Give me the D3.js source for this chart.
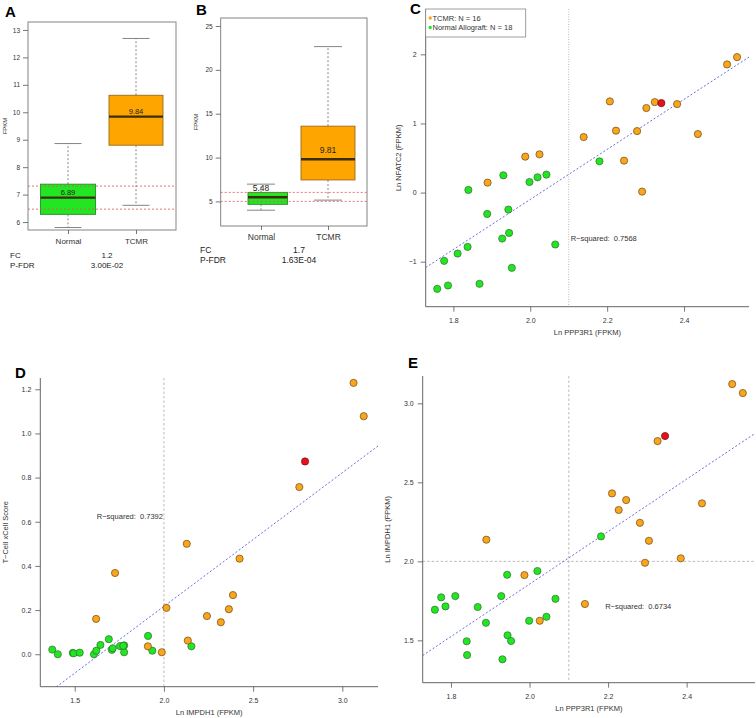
<!DOCTYPE html>
<html><head><meta charset="utf-8">
<script src="https://cdn.jsdelivr.net/npm/d3@7"></script>
<style>body{margin:0;background:#fff}</style>
</head><body><svg id="c" width="756" height="718"></svg>
<script>
// ---------------- DATA ----------------
const boxCategories = ["Normal", "TCMR"];
// Panel A (FPKM)
const boxA_low  = [5.80, 6.61];
const boxA_q1   = [6.28, 8.80];
const boxA_med  = [6.89, 9.84];
const boxA_q3   = [7.38, 10.62];
const boxA_high = [8.86, 12.69];
const boxA_ref  = [6.47, 7.31];
const boxA_ticks = [6, 7, 8, 9, 10, 11, 12, 13];
const boxA_fc = "1.2", boxA_pfdr = "3.00E-02";
// Panel B (FPKM)
const boxB_low  = [4.0, 5.15];
const boxB_q1   = [4.67, 7.45];
const boxB_med  = [5.48, 9.81];
const boxB_q3   = [6.03, 13.58];
const boxB_high = [6.97, 22.65];
const boxB_ref  = [5.0, 6.03];
const boxB_ticks = [5, 10, 15, 20, 25];
const boxB_fc = "1.7", boxB_pfdr = "1.63E-04";

// Panel C: Ln PPP3R1 vs Ln NFATC2
const cTcmrX = [2.538, 2.512, 2.207, 2.324, 2.382, 2.302, 2.223, 2.278, 2.436, 2.139, 1.987, 2.024, 2.244, 1.889, 2.291];
const cTcmrY = [1.96, 1.854, 1.319, 1.309, 1.28, 1.223, 0.896, 0.89, 0.847, 0.803, 0.52, 0.553, 0.462, 0.144, 0.014];
const cRedX = [2.341], cRedY = [1.295];
const cNormX = [2.180, 1.93, 1.839, 1.998, 2.019, 2.042, 1.888, 1.943, 1.927, 1.945, 2.065, 1.837, 1.811, 1.776, 1.952, 1.868, 1.786, 1.758];
const cNormY = [0.452, 0.25, 0.038, 0.153, 0.221, 0.26, -0.309, -0.246, -0.665, -0.584, -0.751, -0.786, -0.882, -0.988, -1.089, -1.32, -1.344, -1.393];
const cXTicks = [1.8, 2.0, 2.2, 2.4], cYTicks = [-1, 0, 1, 2];
const cFit = [3.62, -7.339];   // slope, intercept
const cR2 = "0.7568";

// Panel D: Ln IMPDH1 vs T-Cell xCell score
const dTcmrX = [3.063, 3.12, 2.759, 2.128, 2.424, 1.726, 2.387, 2.014, 2.364, 2.241, 1.62, 2.319, 2.134, 1.91, 1.988];
const dTcmrY = [1.229, 1.078, 0.757, 0.5, 0.433, 0.368, 0.268, 0.21, 0.204, 0.173, 0.16, 0.145, 0.062, 0.036, 0.009];
const dRedX = [2.791], dRedY = [0.873];
const dNormX = [1.374, 1.405, 1.489, 1.494, 1.528, 1.608, 1.621, 1.644, 1.691, 1.708, 1.713, 1.754, 1.777, 1.777, 1.772, 1.911, 1.935, 2.154];
const dNormY = [0.021, 0.0, 0.006, 0.004, 0.007, 0.0, 0.016, 0.042, 0.068, 0.02, 0.027, 0.037, 0.04, 0.009, 0.038, 0.083, 0.016, 0.036];
const dXTicks = [1.5, 2.0, 2.5, 3.0], dYTicks = [0.0, 0.2, 0.4, 0.6, 0.8, 1.0, 1.2];
const dFit = [0.605, -0.993];
const dR2 = "0.7392";

// Panel E: Ln PPP3R1 vs Ln IMPDH1
const eTcmrX = [2.516, 2.543, 2.326, 2.21, 2.246, 2.439, 2.227, 2.281, 1.89, 2.304, 2.385, 2.294, 1.987, 2.141, 2.026];
const eTcmrY = [3.122, 3.065, 2.761, 2.43, 2.388, 2.367, 2.325, 2.244, 2.137, 2.13, 2.019, 1.991, 1.913, 1.73, 1.624];
const eRedX = [2.345], eRedY = [2.793];
const eNormX = [2.182, 1.943, 2.02, 1.811, 1.775, 1.928, 2.066, 1.786, 1.868, 1.759, 2.043, 1.999, 1.889, 1.944, 1.84, 1.953, 1.841, 1.931];
const eNormY = [2.158, 1.915, 1.939, 1.78, 1.772, 1.78, 1.763, 1.715, 1.711, 1.694, 1.649, 1.624, 1.611, 1.532, 1.494, 1.496, 1.407, 1.38];
const eXTicks = [1.8, 2.0, 2.2, 2.4], eYTicks = [1.5, 2.0, 2.5, 3.0];
const eFit = [1.661, -1.466];
const eR2 = "0.6734";

const legendLabels = ["TCMR: N = 16", "Normal Allograft: N = 18"];

// ---------------- STYLE ----------------
const FONT = '"Liberation Sans", Arial, Helvetica, sans-serif';
const GREEN = "#22E622", GREEN_STROKE = "#2f6f2f";
const ORANGE = "#F9A51E", ORANGE_STROKE = "#6d4a10";
const RED = "#E8101A", RED_STROKE = "#6a1010";
const AXIS = "#555";

const svg = d3.select("#c");

function styleAxis(g, fs) {
  g.select(".domain").remove();
  g.attr("font-family", FONT).attr("font-size", fs);
  g.selectAll(".tick line").attr("stroke", AXIS).attr("stroke-width", 0.8);
  g.selectAll(".tick text").attr("fill", "#333");
}

function letter(txt, x, y) {
  svg.append("text").attr("x", x).attr("y", y).text(txt)
    .attr("font-family", FONT).attr("font-weight", "bold").attr("font-size", 15).attr("fill", "#000");
}

// ---------------- BOX PLOTS ----------------
function boxplot(o) {
  const g = svg.append("g");
  const y = d3.scaleLinear().domain(o.yDomain).range([o.bottom, o.top]);
  const x = d3.scalePoint().domain(boxCategories).range(o.centers);
  const rows = boxCategories.map((c, i) => ({c, i, low: o.low[i], q1: o.q1[i], med: o.med[i], q3: o.q3[i], high: o.high[i]}));
  g.append("rect").attr("x", o.left).attr("y", o.top).attr("width", o.right - o.left).attr("height", o.bottom - o.top)
    .attr("fill", "none").attr("stroke", "#777").attr("stroke-width", 0.9);
  rows.forEach(r => {
    const cx = x(r.c);
    const [l, rr] = o.boxExt[r.i];
    const fill = r.i === 0 ? GREEN : "#FFA500";
    const stroke = r.i === 0 ? "#2b8a2b" : "#9a6a18";
    g.append("line").attr("x1", cx).attr("x2", cx).attr("y1", y(r.q3)).attr("y2", y(r.high))
      .attr("stroke", "#666").attr("stroke-dasharray", "2,2").attr("stroke-width", 0.8);
    g.append("line").attr("x1", cx).attr("x2", cx).attr("y1", y(r.q1)).attr("y2", y(r.low))
      .attr("stroke", "#666").attr("stroke-dasharray", "2,2").attr("stroke-width", 0.8);
    [r.low, r.high].forEach(v => g.append("line").attr("x1", cx - o.cap).attr("x2", cx + o.cap)
      .attr("y1", y(v)).attr("y2", y(v)).attr("stroke", "#777").attr("stroke-width", 0.9));
    g.append("rect").attr("x", cx + l).attr("width", rr - l).attr("y", y(r.q3)).attr("height", y(r.q1) - y(r.q3))
      .attr("fill", fill).attr("stroke", stroke).attr("stroke-width", 0.9);
    g.append("line").attr("x1", cx + l).attr("x2", cx + rr).attr("y1", y(r.med)).attr("y2", y(r.med))
      .attr("stroke", "#3a2e10").attr("stroke-width", 2.4);
    g.append("text").attr("x", cx).attr("y", y(r.med) - o.labelGap).attr("text-anchor", "middle")
      .attr("font-family", FONT).attr("font-size", o.medFs).attr("fill", "#222").text(r.med.toFixed(2));
  });
  o.ref.forEach(v => g.append("line").attr("x1", o.left).attr("x2", o.right).attr("y1", y(v)).attr("y2", y(v))
    .attr("stroke", "#e05555").attr("stroke-dasharray", "2,2").attr("stroke-width", 0.8));
  const ya = g.append("g").attr("transform", `translate(${o.left},0)`)
    .call(d3.axisLeft(y).tickValues(o.ticks).tickSize(5).tickPadding(3).tickFormat(d3.format("d")));
  styleAxis(ya, o.tickFs);
  const xa = g.append("g").attr("transform", `translate(0,${o.bottom})`)
    .call(d3.axisBottom(x).tickSize(4).tickPadding(4));
  styleAxis(xa, o.catFs);
  g.append("text").attr("transform", `translate(${o.yTitleX},${(o.top + o.bottom) / 2}) rotate(-90)`)
    .attr("text-anchor", "middle").attr("dy", "0.35em").attr("font-family", FONT).attr("font-size", 6).attr("fill", "#333").text("FPKM");
  const t = (txt, xx, yy, anchor) => g.append("text").attr("x", xx).attr("y", yy).attr("text-anchor", anchor)
    .attr("dy", "0.35em").attr("font-family", FONT).attr("font-size", o.catFs).attr("fill", "#222").text(txt);
  t("FC", o.fcX, o.fcY, "start");
  t(o.fc, o.valX, o.fcY, "middle");
  t("P-FDR", o.fcX, o.fcY + 10, "start");
  t(o.pfdr, o.valX, o.fcY + 10, "middle");
}

boxplot({left: 28, right: 176, top: 22, bottom: 230, yDomain: [5.71, 13.29], centers: [68, 136],
  boxExt: [[-27.5, 27.5], [-27, 27]], cap: 13.5,
  low: boxA_low, q1: boxA_q1, med: boxA_med, q3: boxA_q3, high: boxA_high, ref: boxA_ref, ticks: boxA_ticks,
  labelGap: 3, medFs: 7.5, tickFs: 6.5, catFs: 8, yTitleX: 5, fcX: 10, fcY: 255, valX: 107, fc: boxA_fc, pfdr: boxA_pfdr});
boxplot({left: 220.7, right: 367, top: 18, bottom: 226, yDomain: [2.2, 25.91], centers: [261, 328],
  boxExt: [[-13, 26.5], [-27, 27]], cap: 14,
  low: boxB_low, q1: boxB_q1, med: boxB_med, q3: boxB_q3, high: boxB_high, ref: boxB_ref, ticks: boxB_ticks,
  labelGap: 6, medFs: 8.5, tickFs: 6.5, catFs: 8.5, yTitleX: 196, fcX: 200, fcY: 250, valX: 299, fc: boxB_fc, pfdr: boxB_pfdr});
letter("A", 5, 17);
letter("B", 196, 15);

// ---------------- SCATTER PLOTS ----------------
let clipN = 0;
function scatter(o) {
  const g = svg.append("g");
  const x = d3.scaleLinear().domain(o.xDomain).range([o.left, o.right]);
  const y = d3.scaleLinear().domain(o.yDomain).range([o.bottom, o.top]);
  const id = "clip" + (clipN++);
  svg.append("clipPath").attr("id", id).append("rect")
    .attr("x", o.left).attr("y", o.top).attr("width", o.right - o.left).attr("height", o.bottom - o.top);
  const inner = g.append("g").attr("clip-path", `url(#${id})`);
  (o.vref || []).forEach(v => inner.append("line").attr("x1", x(v)).attr("x2", x(v)).attr("y1", o.top).attr("y2", o.bottom)
    .attr("stroke", "#aaa").attr("stroke-width", 0.8).attr("stroke-dasharray", o.refDash));
  (o.href || []).forEach(v => inner.append("line").attr("x1", o.left).attr("x2", o.right).attr("y1", y(v)).attr("y2", y(v))
    .attr("stroke", "#aaa").attr("stroke-width", 0.8).attr("stroke-dasharray", o.refDash));
  const [m, b] = o.fit;
  inner.append("line").attr("x1", x(o.xDomain[0])).attr("y1", y(m * o.xDomain[0] + b))
    .attr("x2", x(o.xDomain[1])).attr("y2", y(m * o.xDomain[1] + b))
    .attr("stroke", "#5a5ae0").attr("stroke-width", 0.9).attr("stroke-dasharray", "2,2");
  const pts = (xs, ys, fill, stroke) => inner.append("g").selectAll("circle").data(xs.map((v, i) => [v, ys[i]])).join("circle")
    .attr("cx", d => x(d[0])).attr("cy", d => y(d[1])).attr("r", 3.6)
    .attr("fill", fill).attr("stroke", stroke).attr("stroke-width", 0.7);
  pts(o.nx, o.ny, GREEN, GREEN_STROKE);
  pts(o.tx, o.ty, ORANGE, ORANGE_STROKE);
  pts(o.rx, o.ry, RED, RED_STROKE);
  g.append("path").attr("d", `M${o.left},${o.top}V${o.bottom}H${o.right}`).attr("fill", "none").attr("stroke", AXIS).attr("stroke-width", 0.9);
  const ya = g.append("g").attr("transform", `translate(${o.left},0)`)
    .call(d3.axisLeft(y).tickValues(o.yTicks).tickSize(5).tickPadding(4).tickFormat(o.yFmt));
  styleAxis(ya, 7);
  const xa = g.append("g").attr("transform", `translate(0,${o.bottom})`)
    .call(d3.axisBottom(x).tickValues(o.xTicks).tickSize(5).tickPadding(6).tickFormat(d3.format(".1f")));
  styleAxis(xa, 7);
  g.append("text").attr("x", (o.left + o.right) / 2).attr("y", o.bottom + 26).attr("text-anchor", "middle").attr("dy", "0.35em")
    .attr("font-family", FONT).attr("font-size", 7.5).attr("fill", "#333").text(o.xTitle);
  g.append("text").attr("transform", `translate(${o.left - o.yTitleOff},${(o.top + o.bottom) / 2}) rotate(-90)`)
    .attr("text-anchor", "middle").attr("dy", "0.35em").attr("font-family", FONT).attr("font-size", 7.5).attr("fill", "#333").text(o.yTitle);
  g.append("text").attr("x", x(o.r2Pos[0])).attr("y", y(o.r2Pos[1])).attr("dx", o.r2Anchor === "end" ? -1 : 2).attr("dy", "0.35em")
    .attr("text-anchor", o.r2Anchor).attr("font-family", FONT).attr("font-size", 7.5).attr("fill", "#333").attr("xml:space", "preserve")
    .text("R\u2212squared:  " + o.r2);
  return {x, y, g};
}

const minusFmt = d => (d < 0 ? "\u2212" : "") + Math.abs(d);

scatter({left: 425.7, right: 749, top: 9, bottom: 306.7, xDomain: [1.728, 2.569], yDomain: [-1.651, 2.656],
  xTicks: cXTicks, yTicks: cYTicks, yFmt: minusFmt, vref: [2.1], refDash: "1,1.5",
  fit: cFit, nx: cNormX, ny: cNormY, tx: cTcmrX, ty: cTcmrY, rx: cRedX, ry: cRedY,
  xTitle: "Ln PPP3R1 (FPKM)", yTitle: "Ln NFATC2 (FPKM)", yTitleOff: 27.5,
  r2: cR2, r2Pos: [2.1, -0.66], r2Anchor: "start"});

scatter({left: 40.3, right: 378, top: 378, bottom: 686.7, xDomain: [1.307, 3.2], yDomain: [-0.147, 1.251],
  xTicks: dXTicks, yTicks: dYTicks, yFmt: d3.format(".1f"), vref: [2.0], refDash: "2.5,2",
  fit: dFit, nx: dNormX, ny: dNormY, tx: dTcmrX, ty: dTcmrY, rx: dRedX, ry: dRedY,
  xTitle: "Ln IMPDH1 (FPKM)", yTitle: "T\u2212Cell xCell Score", yTitleOff: 35,
  r2: dR2, r2Pos: [2.0, 0.626], r2Anchor: "end"});

scatter({left: 422.7, right: 755, top: 376, bottom: 682.7, xDomain: [1.728, 2.574], yDomain: [1.232, 3.173],
  xTicks: eXTicks, yTicks: eYTicks, yFmt: d3.format(".1f"), vref: [2.1], href: [2.0], refDash: "2.5,2",
  fit: eFit, nx: eNormX, ny: eNormY, tx: eTcmrX, ty: eTcmrY, rx: eRedX, ry: eRedY,
  xTitle: "Ln PPP3R1 (FPKM)", yTitle: "Ln IMPDH1 (FPKM)", yTitleOff: 35.5,
  r2: eR2, r2Pos: [2.1875, 1.713], r2Anchor: "start"});

// Legend for C
const lg = svg.append("g");
lg.append("rect").attr("x", 425.7).attr("y", 9).attr("width", 100).attr("height", 28)
  .attr("fill", "#fff").attr("stroke", "#888").attr("stroke-width", 0.8);
[[ORANGE, legendLabels[0], 18], [GREEN, legendLabels[1], 27.5]].forEach(([c, t, yy]) => {
  lg.append("circle").attr("cx", 430.2).attr("cy", yy).attr("r", 1.7).attr("fill", c);
  lg.append("text").attr("x", 432.5).attr("y", yy).attr("dy", "0.35em").attr("font-family", FONT).attr("font-size", 7.5)
    .attr("fill", "#333").text(t);
});

letter("C", 410, 14);
letter("D", 15, 378);
letter("E", 408, 368);
</script></body></html>
